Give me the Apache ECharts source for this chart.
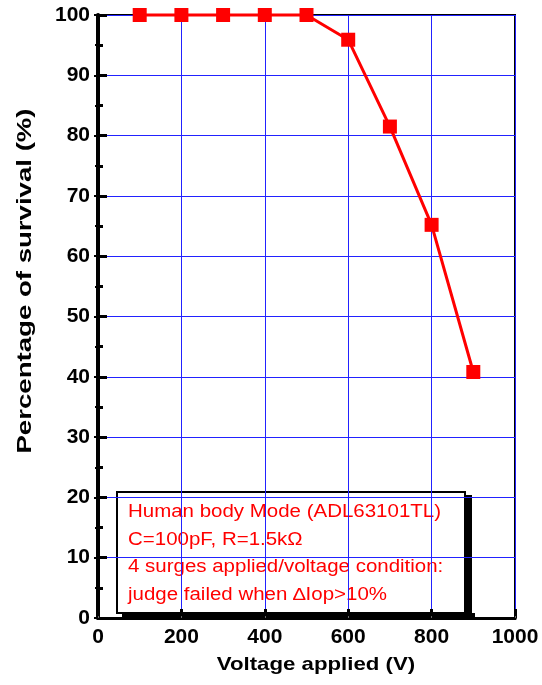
<!DOCTYPE html>
<html>
<head>
<meta charset="utf-8">
<script src="https://cdn.jsdelivr.net/npm/echarts@6/dist/echarts.min.js"></script>
<style>
  html, body { margin: 0; padding: 0; background: #fff; }
  #main { width: 542px; height: 685px; }
</style>
</head>
<body>
<div id="main"></div>
<script>
var voltage = [100, 200, 300, 400, 500, 600, 700, 800, 900];
var survival = [100, 100, 100, 100, 100, 95.9, 81.5, 65.2, 40.8];
var noteLines = [
    'Human body Mode (ADL63101TL)',
    'C=100pF, R=1.5k\u03A9',
    '4 surges applied/voltage condition:',
    'judge failed when \u2206Iop>10%'
];

var chart = echarts.init(document.getElementById('main'));
var font = 'Liberation Sans, Arial, sans-serif';

var noteTexts = noteLines.map(function (t, i) {
    return {
        type: 'text',
        x: 128, y: 512 + i * 27.7,
        scaleX: 1.17,
        style: {
            text: t,
            fill: '#ff0000',
            font: '17.5px ' + font,
            textVerticalAlign: 'middle'
        }
    };
});

var option = {
    backgroundColor: '#fff',
    animation: false,
    grid: {
        left: 98, right: 27, top: 15, bottom: 67,
        show: true, borderColor: '#000', borderWidth: 2
    },
    xAxis: [{
        type: 'value',
        min: 0, max: 1000, interval: 200,
        axisLine: { lineStyle: { color: '#000', width: 3 } },
        axisTick: { inside: true, length: 9, lineStyle: { color: '#000', width: 3 } },
        minorTick: { show: true, splitNumber: 2, length: 5, lineStyle: { color: '#000', width: 3 } },
        axisLabel: {
            fontFamily: font, fontWeight: 'bold', fontSize: 21, color: '#000', margin: 9,
            formatter: function (v) { return String(v); }
        },
        splitLine: { show: true, lineStyle: { color: '#2222ff', width: 1 } }
    }, {
        type: 'value', position: 'top',
        min: 0, max: 1000, interval: 200,
        axisLine: { lineStyle: { color: '#000', width: 3 } },
        axisTick: { inside: false, length: 2, lineStyle: { color: '#666', width: 1 } },
        axisLabel: { show: false },
        splitLine: { show: false }
    }],
    yAxis: [{
        type: 'value',
        min: 0, max: 100, interval: 10,
        axisLine: { lineStyle: { color: '#000', width: 3 } },
        axisTick: { inside: true, length: 9, lineStyle: { color: '#000', width: 3 } },
        minorTick: { show: true, splitNumber: 2, length: 5, lineStyle: { color: '#000', width: 3 } },
        axisLabel: { fontFamily: font, fontWeight: 'bold', fontSize: 21, color: '#000', margin: 8 },
        splitLine: { show: true, lineStyle: { color: '#2222ff', width: 1 } }
    }, {
        type: 'value', position: 'right',
        min: 0, max: 100, interval: 10,
        axisLine: { show: true, lineStyle: { color: '#000', width: 4 } },
        axisTick: { show: true, inside: true, length: 4, lineStyle: { color: '#000', width: 2 } },
        minorTick: { show: true, splitNumber: 2, length: 3, lineStyle: { color: '#000', width: 2 } },
        axisLabel: { show: false },
        splitLine: { show: false }
    }],
    series: [{
        type: 'line',
        data: voltage.map(function (v, i) { return [v, survival[i]]; }),
        symbol: 'rect',
        symbolSize: 14,
        clip: false,
        itemStyle: { color: '#ff0000' },
        lineStyle: { color: '#ff0000', width: 3 },
        z: 5
    }],
    graphic: [{
        type: 'text',
        x: 316, y: 655,
        scaleX: 1.17,
        style: {
            text: 'Voltage applied (V)',
            font: 'bold 19px ' + font,
            fill: '#000',
            textAlign: 'center'
        }
    }, {
        type: 'text',
        x: 25, y: 281,
        rotation: Math.PI / 2,
        scaleX: 1.38,
        style: {
            text: 'Percentage of survival (%)',
            font: 'bold 20px ' + font,
            fill: '#000',
            textAlign: 'center',
            textVerticalAlign: 'middle'
        }
    }, {
        type: 'group',
        z: 100,
        children: [{
            type: 'rect',
            shape: { x: 122, y: 495, width: 350, height: 123 },
            style: { fill: '#000' }
        }, {
            type: 'rect',
            shape: { x: 117, y: 492, width: 348, height: 121 },
            style: { fill: '#fff', stroke: '#000', lineWidth: 2 }
        }].concat(noteTexts)
    }]
};
chart.setOption(option);
</script>
</body>
</html>
